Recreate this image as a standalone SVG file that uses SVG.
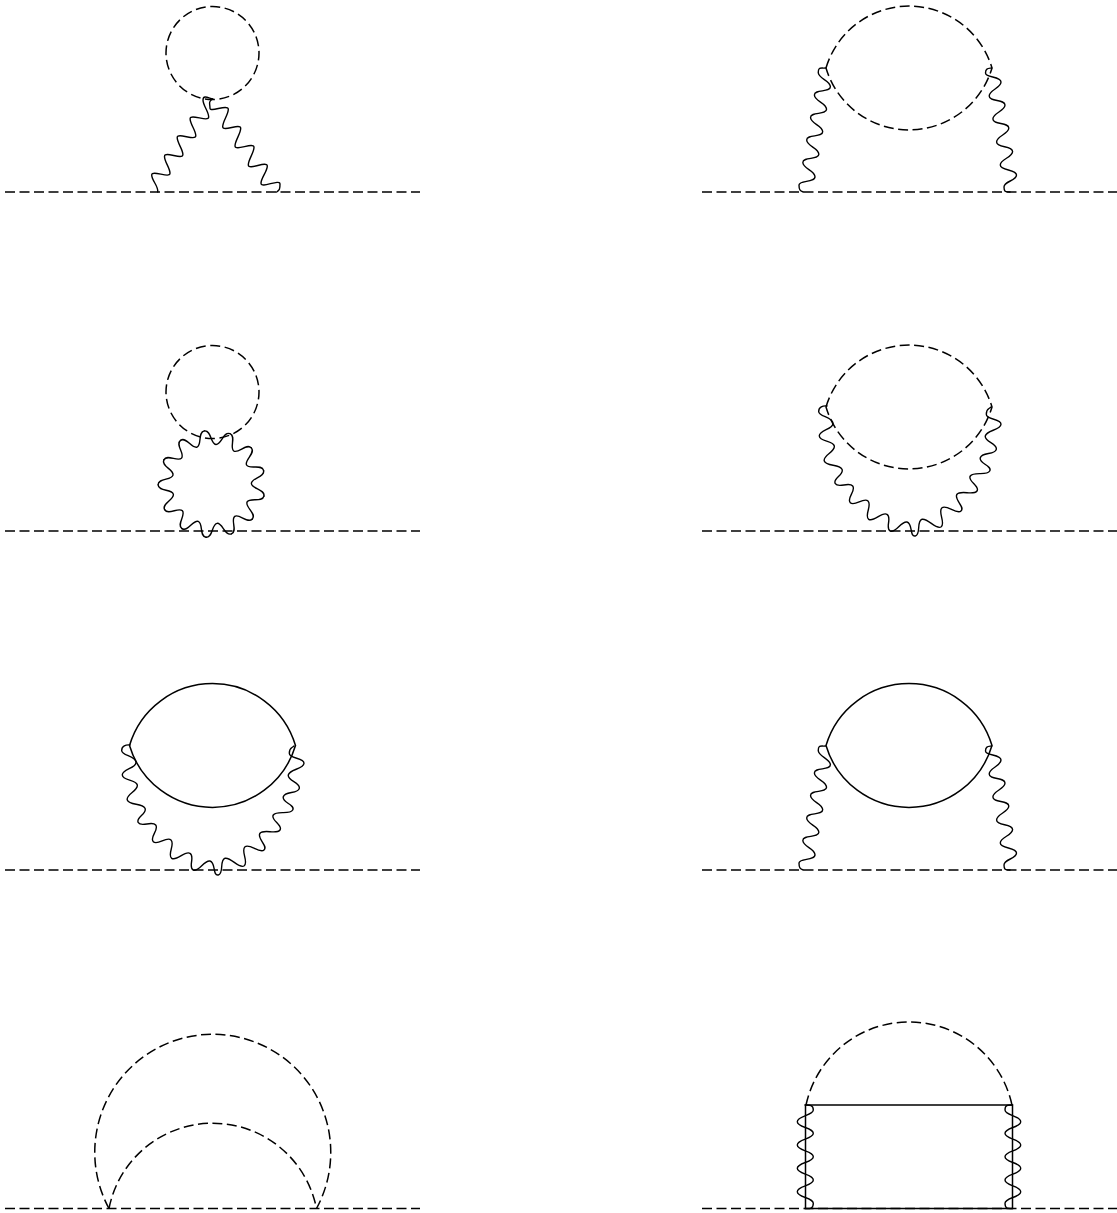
<svg xmlns="http://www.w3.org/2000/svg" width="1117" height="1213" viewBox="0 0 1117 1213">
<style>
path,circle,line,rect{fill:none;stroke:#000;stroke-width:1.5}
.d{stroke-dasharray:10 4.5}
.c{stroke-dasharray:10 4.6;stroke-dashoffset:2.500}
.w{stroke-linecap:round;stroke-linejoin:round;stroke-width:1.4}
</style>
<defs>
<path id="lens" d="M826 745.500A86.600 86.600 0 0 1 992 745.500A86.600 86.600 0 0 1 826 745.500Z"/>
<path id="wl" class="w" d="M803.300 192C800 190.500 799 190 799 185S815 182.700 815 176.700S802.850 168.500 802.850 162.500S818.850 160.200 818.850 154.200S806.700 146 806.700 140S822.700 137.700 822.700 131.700S810.550 123.500 810.550 117.500S826.550 115.200 826.550 109.200S814.400 101 814.400 95S830.400 92.700 830.400 86.700S818.250 78.500 818.250 72.500S821 68.500 825.500 68"/>
<path id="wr" class="w" d="M991.700 68C988.500 68.500 985.500 68 985.500 73S1001 76 1001 82S989.200 90 989.200 96S1005 99 1005 105S992.900 113 992.900 119S1008.800 122 1008.800 128S996.600 136 996.600 142S1012.600 145.500 1012.600 151.500S1000.300 159 1000.300 165S1016.500 169 1016.500 175S1004 181 1004 187S1006.500 191.500 1010 192"/>
<path id="arc" class="w" d="M130 745C126 744.500 121.500 746 121.700 750.700S135.800 756.300 136 762.300S121.900 769 122.300 775S136.100 779.100 137.300 785S125.400 794.300 127.300 800S142.400 802.900 145 808.300S135.100 817.700 138.300 822.700S152 820.300 155.700 825S149 837.500 153.300 841.700S166.600 836 171 840S166.800 854.900 171.700 858.300S184.700 850.400 190 853.300S187.700 867.800 193.300 870S204.100 859.800 210 861S212.400 876.100 218.300 875S219.200 859.800 225 858.300S238.800 869 244 866S240.300 850.400 245 846.700S259.500 854 264 850S256.300 838 260 833.300S276.500 834.900 280 830S270 820 273.300 815S289.800 815.300 292.700 810S281.600 802.500 283.300 796.700S298 794.100 299.300 788.300S287.200 780.900 288.300 775S303.700 769.300 304 763.300S289.300 759.300 289.300 753.300S291.500 748.500 294 746"/>
<path id="p" class="w" d="M0-53.600C7-53.600 4.160-39.860 9.500-38.550C14.840-37.240 18.700-50.700 24.900-47.460"/>
</defs>
<g id="diagram-1">
<circle class="c" cx="212.500" cy="53" r="46.500"/>
<line class="d" x1="5" y1="192" x2="420" y2="192"/>
<path class="w" d="M157.800 192C158.500 186 151.700 180.500 151.700 175S170 178.800 170 173.300S164.500 161.900 164.500 156.400S182.900 160.100 182.900 154.600S177.200 143.100 177.200 137.600S195.800 141.300 195.800 135.800S190.100 124.300 190.100 118.800S208.700 122.500 208.700 117S203 105.500 203 100S208.500 98 212.700 99"/>
<path class="w" d="M212.700 99C208 101.500 210 104 210 108.300S228.300 103.800 228.300 109.300S222.700 121.200 222.700 126.700S240.700 122.800 240.700 128.300S235 140.500 235 146S254 141.800 254 147.300S248.300 159.500 248.300 165S267.300 160.500 267.300 166S261 177.800 261 183.300S280 178.500 280 184S279.500 190 276.700 192"/>
</g>
<g id="diagram-2">
<use href="#lens" class="d" transform="translate(0,-677.500)"/>
<line class="d" x1="702" y1="192" x2="1117" y2="192"/>
<use href="#wl"/>
<use href="#wr"/>
</g>
<g id="diagram-3">
<circle class="c" cx="212.500" cy="392" r="46.500"/>
<line class="d" x1="5" y1="531" x2="420" y2="531"/>
<g transform="translate(211.700,484)">
<use href="#p" transform="rotate(186)"/><use href="#p" transform="rotate(213.700)"/><use href="#p" transform="rotate(241.400)"/><use href="#p" transform="rotate(269.100)"/><use href="#p" transform="rotate(296.800)"/><use href="#p" transform="rotate(324.500)"/><use href="#p" transform="rotate(352.200)"/><use href="#p" transform="rotate(19.900)"/><use href="#p" transform="rotate(47.600)"/><use href="#p" transform="rotate(75.300)"/><use href="#p" transform="rotate(103)"/><use href="#p" transform="rotate(130.700)"/><use href="#p" transform="rotate(158.400)"/>
</g>
</g>
<g id="diagram-4">
<use href="#lens" class="d" transform="translate(0,-338.500)"/>
<line class="d" x1="702" y1="531" x2="1117" y2="531"/>
<use href="#arc" transform="translate(697,-339)"/>
</g>
<g id="diagram-5">
<use href="#lens" transform="translate(-696.500,0)"/>
<line class="d" x1="5" y1="870" x2="420" y2="870"/>
<use href="#arc"/>
</g>
<g id="diagram-6">
<use href="#lens"/>
<line class="d" x1="702" y1="870" x2="1117" y2="870"/>
<use href="#wl" transform="translate(0,678)"/>
<use href="#wr" transform="translate(0,678)"/>
</g>
<g id="diagram-7">
<path class="d" d="M109 1208.500A118 118 0 1 1 316.500 1208.500"/>
<path class="d" d="M109 1208.500A105.750 105.750 0 0 1 316.500 1208.500"/>
<line class="d" x1="5" y1="1208.500" x2="420" y2="1208.500"/>
</g>
<g id="diagram-8">
<path class="d" d="M806 1105A105.400 105.400 0 0 1 1012 1105"/>
<line class="d" x1="702" y1="1208.500" x2="1117" y2="1208.500"/>
<rect x="805.500" y="1105" width="207" height="103.500"/>
<path class="w" d="M805 1105C809 1105 813.300 1104.500 813.300 1110s-16 5.670-16 11.670s16 5.670 16 11.670s-16 5.670-16 11.670s16 5.670 16 11.670s-16 5.670-16 11.670s16 5.670 16 11.670s-16 5.670-16 11.670s16 5.670 16 11.670s-4 5.200-8.300 5.200"/>
<path class="w" d="M1012.500 1105C1008 1105 1005 1104.500 1005 1110s15.700 5.670 15.700 11.670s-15.700 5.670-15.700 11.670s15.700 5.670 15.700 11.670s-15.700 5.670-15.700 11.670s15.700 5.670 15.700 11.670s-15.700 5.670-15.700 11.670s15.700 5.670 15.700 11.670s-15.700 5.670-15.700 11.670s3.500 5.200 7.500 5.200"/>
</g>
</svg>
